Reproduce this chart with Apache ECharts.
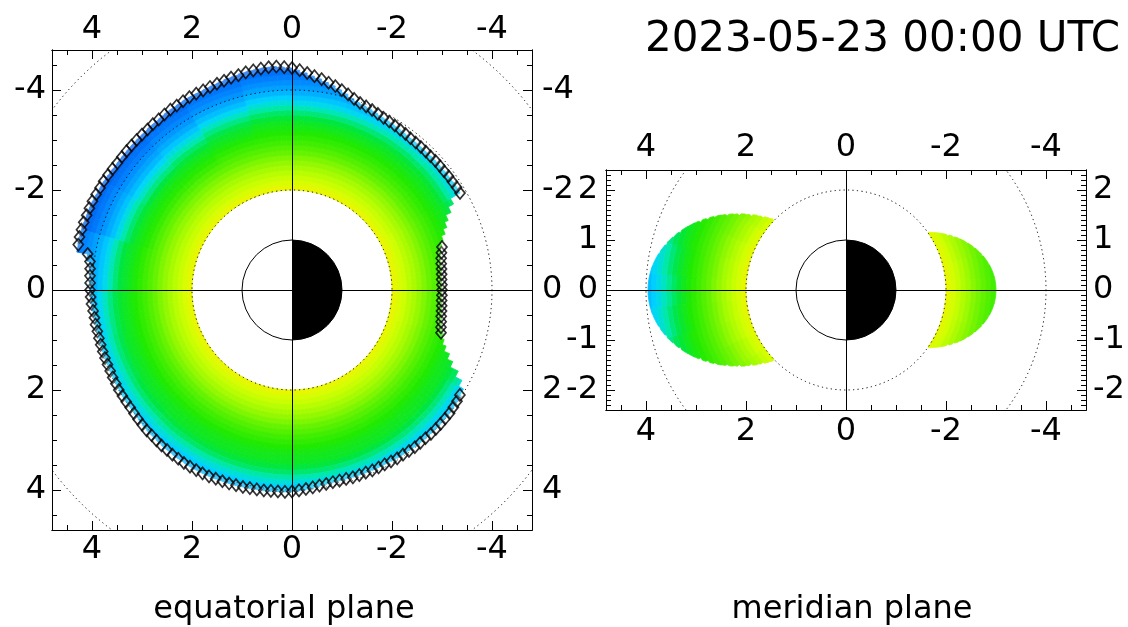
<!DOCTYPE html>
<html>
<head>
<meta charset="utf-8">
<script src="https://cdn.jsdelivr.net/npm/echarts@6/dist/echarts.min.js"></script>
<style>
html, body { margin: 0; padding: 0; background: #fff; }
#chart { width: 1128px; height: 627px; }
</style>
</head>
<body>
<div id="chart"></div>
<script>
var titleText = '2023-05-23 00:00 UTC';
var panelNames = ['equatorial plane', 'meridian plane'];

// equatorial plane: plasmapause radius (RE), every 2 deg from the sunward axis
var eqEdgeStep = 2;
var eqEdge = [
    4.04, 4.03, 4.02, 4.00, 3.99, 3.99, 3.98, 3.98, 3.98, 3.98,
    3.98, 3.98, 3.98, 3.99, 3.99, 4.00, 4.00, 4.00, 4.00, 4.01,
    4.02, 4.03, 4.04, 4.04, 4.05, 4.06, 4.06, 4.07, 4.07, 4.08,
    4.08, 4.08, 4.08, 4.08, 4.07, 4.07, 4.07, 4.06, 4.06, 4.05,
    4.05, 4.05, 4.04, 4.04, 4.04, 4.03, 4.01, 3.99, 3.97, 3.95,
    3.94, 3.93, 3.93, 3.93, 3.94, 3.94, 3.94, 3.95, 3.95, 3.95,
    3.96, 3.97, 3.97, 3.98, 3.99, 3.99, 3.99, 4.00, 4.00, 4.00,
    4.00, 4.00, 3.99, 3.98, 3.96, 3.85, 3.70, 3.52, 3.40, 3.28,
    3.20, 3.15, 3.10, 3.07, 3.05, 3.03, 3.02, 3.01, 3.00, 3.00,
    3.00, 3.00, 3.00, 3.01, 3.02, 3.03, 3.05, 3.08, 3.12, 3.18,
    3.26, 3.34, 3.42, 3.54, 3.66, 3.88, 3.88, 3.87, 3.87, 3.86,
    3.86, 3.86, 3.85, 3.85, 3.85, 3.85, 3.85, 3.86, 3.87, 3.88,
    3.89, 3.90, 3.92, 3.94, 3.96, 3.98, 4.02, 4.07, 4.12, 4.17,
    4.21, 4.26, 4.30, 4.35, 4.40, 4.44, 4.46, 4.48, 4.48, 4.47,
    4.46, 4.45, 4.43, 4.42, 4.40, 4.39, 4.38, 4.37, 4.37, 4.37,
    4.36, 4.35, 4.35, 4.34, 4.33, 4.33, 4.32, 4.32, 4.32, 4.32,
    4.32, 4.32, 4.32, 4.33, 4.34, 4.35, 4.35, 4.36, 4.37, 4.37,
    4.37, 4.38, 4.38, 4.38, 4.37, 4.15, 4.08, 4.06, 4.05, 4.04
];
// angle ranges (deg) where plasmapause points are marked
var eqMarked = [[0, 148], [164, 196], [210, 358]];

// density (log10 cm^-3): 15 deg sectors x radial bins 2.0 .. 4.5 RE
var eqSectorWidth = 15;
var eqRadialBins = [2.0, 2.1, 2.2, 2.3, 2.4, 2.5, 2.6, 2.7, 2.8, 2.9, 3.0, 3.1, 3.2,
    3.3, 3.4, 3.5, 3.6, 3.7, 3.8, 3.9, 4.0, 4.1, 4.2, 4.3, 4.4, 4.5];
var binWidth = 0.1;
var eqDensity = [
    [2.95, 2.85, 2.77, 2.70, 2.63, 2.56, 2.49, 2.42, 2.36, 2.30, 2.25, 2.20, 2.15, 2.10, 2.05, 1.97, 1.88, 1.76, 1.64, 1.52, 1.42, null, null, null, null, null],
    [2.95, 2.85, 2.77, 2.70, 2.63, 2.56, 2.49, 2.42, 2.36, 2.30, 2.25, 2.20, 2.15, 2.10, 2.06, 1.98, 1.90, 1.78, 1.66, 1.55, null, null, null, null, null, null],
    [2.95, 2.85, 2.77, 2.70, 2.63, 2.56, 2.49, 2.42, 2.36, 2.30, 2.25, 2.20, 2.15, 2.10, 2.07, 2.00, 1.92, 1.80, 1.68, 1.56, 1.46, null, null, null, null, null],
    [2.95, 2.85, 2.77, 2.70, 2.63, 2.56, 2.49, 2.42, 2.36, 2.30, 2.25, 2.20, 2.15, 2.11, 2.08, 2.01, 1.93, 1.82, 1.70, 1.58, 1.46, null, null, null, null, null],
    [2.95, 2.85, 2.77, 2.70, 2.63, 2.56, 2.49, 2.42, 2.36, 2.30, 2.25, 2.20, 2.15, 2.11, 2.08, 2.01, 1.93, 1.82, 1.70, 1.58, 1.46, null, null, null, null, null],
    [2.95, 2.85, 2.77, 2.70, 2.63, 2.56, 2.49, 2.42, 2.36, 2.30, 2.25, 2.20, 2.15, 2.11, 2.08, 2.01, 1.93, 1.82, 1.70, 1.58, 1.46, null, null, null, null, null],
    [2.95, 2.85, 2.77, 2.70, 2.63, 2.56, 2.49, 2.42, 2.36, 2.30, 2.25, 2.20, 2.15, 2.11, 2.08, 2.01, 1.92, 1.80, 1.67, 1.55, 1.45, null, null, null, null, null],
    [2.95, 2.85, 2.77, 2.70, 2.63, 2.56, 2.49, 2.42, 2.36, 2.30, 2.25, 2.20, 2.15, 2.11, 2.08, 2.00, 1.90, 1.78, 1.64, 1.52, null, null, null, null, null, null],
    [2.95, 2.85, 2.77, 2.70, 2.63, 2.56, 2.49, 2.42, 2.36, 2.30, 2.25, 2.20, 2.15, 2.11, 2.08, 2.00, 1.90, 1.78, 1.64, 1.52, 1.44, null, null, null, null, null],
    [2.95, 2.85, 2.77, 2.70, 2.63, 2.56, 2.49, 2.42, 2.36, 2.30, 2.25, 2.20, 2.15, 2.11, 2.08, 2.00, 1.90, 1.78, 1.64, 1.52, 1.44, null, null, null, null, null],
    [2.95, 2.85, 2.77, 2.70, 2.63, 2.56, 2.49, 2.42, 2.36, 2.30, 2.25, 2.20, 2.15, 2.11, 2.08, 2.02, 1.95, 1.85, 1.74, null, null, null, null, null, null, null],
    [2.96, 2.87, 2.79, 2.71, 2.64, 2.57, 2.50, 2.43, 2.37, 2.31, 2.26, null, null, null, null, null, null, null, null, null, null, null, null, null, null, null],
    [2.96, 2.87, 2.79, 2.71, 2.64, 2.57, 2.50, 2.43, 2.37, 2.31, 2.26, null, null, null, null, null, null, null, null, null, null, null, null, null, null, null],
    [2.96, 2.87, 2.79, 2.71, 2.64, 2.57, 2.50, 2.43, 2.37, 2.31, 2.26, 2.21, 2.16, 2.11, 2.06, 1.98, 1.92, null, null, null, null, null, null, null, null, null],
    [2.95, 2.85, 2.77, 2.70, 2.63, 2.56, 2.49, 2.42, 2.36, 2.30, 2.25, 2.20, 2.15, 2.10, 2.04, 1.94, 1.82, 1.70, 1.58, null, null, null, null, null, null, null],
    [2.95, 2.85, 2.77, 2.70, 2.63, 2.56, 2.49, 2.42, 2.36, 2.30, 2.25, 2.20, 2.15, 2.09, 2.02, 1.92, 1.80, 1.66, 1.54, null, null, null, null, null, null, null],
    [2.95, 2.85, 2.77, 2.70, 2.63, 2.56, 2.49, 2.42, 2.36, 2.30, 2.25, 2.20, 2.14, 2.08, 2.00, 1.90, 1.78, 1.64, 1.52, 1.42, 1.34, 1.26, null, null, null, null],
    [2.95, 2.85, 2.77, 2.70, 2.63, 2.56, 2.49, 2.42, 2.36, 2.30, 2.25, 2.20, 2.14, 2.08, 2.00, 1.90, 1.78, 1.65, 1.53, 1.43, 1.34, 1.26, 1.19, 1.12, 1.07, null],
    [2.95, 2.85, 2.77, 2.70, 2.63, 2.56, 2.49, 2.42, 2.36, 2.30, 2.25, 2.20, 2.15, 2.10, 2.02, 1.93, 1.82, 1.70, 1.58, 1.47, 1.37, 1.28, 1.20, 1.13, 1.07, null],
    [2.95, 2.85, 2.77, 2.70, 2.63, 2.56, 2.49, 2.42, 2.36, 2.30, 2.24, 2.18, 2.12, 2.06, 1.98, 1.88, 1.76, 1.63, 1.50, 1.40, 1.30, 1.22, 1.15, 1.09, 1.04, null],
    [2.95, 2.85, 2.77, 2.70, 2.63, 2.56, 2.49, 2.42, 2.35, 2.28, 2.22, 2.16, 2.10, 2.02, 1.92, 1.80, 1.67, 1.53, 1.42, 1.32, 1.24, 1.16, 1.10, 1.05, null, null],
    [2.95, 2.85, 2.77, 2.70, 2.63, 2.56, 2.49, 2.42, 2.35, 2.28, 2.22, 2.16, 2.10, 2.00, 1.88, 1.75, 1.62, 1.48, 1.38, 1.28, 1.20, 1.13, 1.07, 1.03, null, null],
    [2.95, 2.85, 2.77, 2.70, 2.63, 2.56, 2.49, 2.42, 2.35, 2.28, 2.22, 2.16, 2.10, 2.02, 1.92, 1.80, 1.66, 1.52, 1.42, 1.32, 1.24, 1.16, 1.10, 1.05, null, null],
    [2.95, 2.85, 2.77, 2.70, 2.63, 2.56, 2.49, 2.42, 2.36, 2.30, 2.24, 2.18, 2.12, 2.06, 2.00, 1.90, 1.78, 1.65, 1.53, 1.44, 1.36, 1.28, 1.22, 1.16, null, null]
];

// meridian plane: latitude bins (deg) x radial bins, day and night side
var merLatBins = [-45, -35, -25, -15, -5, 5, 15, 25, 35];
var merLatWidth = 10;
var merRadialBins = [2.0, 2.1, 2.2, 2.3, 2.4, 2.5, 2.6, 2.7, 2.8, 2.9,
    3.0, 3.1, 3.2, 3.3, 3.4, 3.5, 3.6, 3.7, 3.8, 3.9];
var merDayDensity = [
    [2.84, 2.75, 2.68, 2.62, 2.56, 2.50, 2.45, null, null, null, null, null, null, null, null, null, null, null, null, null],
    [2.88, 2.79, 2.71, 2.64, 2.58, 2.52, 2.46, 2.41, 2.36, 2.31, 2.26, 2.22, 2.18, null, null, null, null, null, null, null],
    [2.92, 2.82, 2.74, 2.67, 2.60, 2.54, 2.48, 2.42, 2.36, 2.31, 2.26, 2.21, 2.16, 2.10, 2.03, 1.96, 1.88, null, null, null],
    [2.94, 2.84, 2.76, 2.69, 2.62, 2.55, 2.48, 2.42, 2.36, 2.30, 2.25, 2.19, 2.13, 2.06, 1.98, 1.90, 1.81, 1.72, 1.63, 1.56],
    [2.95, 2.85, 2.77, 2.70, 2.63, 2.56, 2.49, 2.42, 2.36, 2.30, 2.24, 2.18, 2.11, 2.03, 1.94, 1.85, 1.76, 1.67, 1.58, 1.50],
    [2.94, 2.84, 2.76, 2.69, 2.62, 2.55, 2.48, 2.42, 2.36, 2.30, 2.25, 2.19, 2.13, 2.06, 1.98, 1.90, 1.81, 1.72, 1.63, 1.56],
    [2.92, 2.82, 2.74, 2.67, 2.60, 2.54, 2.48, 2.42, 2.36, 2.31, 2.26, 2.21, 2.16, 2.10, 2.03, 1.96, 1.88, null, null, null],
    [2.88, 2.79, 2.71, 2.64, 2.58, 2.52, 2.46, 2.41, 2.36, 2.31, 2.26, 2.22, 2.18, null, null, null, null, null, null, null],
    [2.84, 2.75, 2.68, 2.62, 2.56, 2.50, 2.45, null, null, null, null, null, null, null, null, null, null, null, null, null]
];
var merNightDensity = [
    [null, null, null, null, null, null, null, null, null, null],
    [2.90, 2.80, 2.72, 2.65, 2.58, null, null, null, null, null],
    [2.92, 2.82, 2.73, 2.65, 2.58, 2.52, 2.46, 2.41, null, null],
    [2.94, 2.84, 2.75, 2.67, 2.59, 2.52, 2.46, 2.40, 2.35, 2.30],
    [2.95, 2.85, 2.76, 2.68, 2.60, 2.53, 2.47, 2.41, 2.36, 2.31],
    [2.94, 2.84, 2.75, 2.67, 2.59, 2.52, 2.46, 2.40, 2.35, 2.30],
    [2.92, 2.82, 2.73, 2.65, 2.58, 2.52, 2.46, 2.41, null, null],
    [2.90, 2.80, 2.72, 2.65, 2.58, null, null, null, null, null],
    [null, null, null, null, null, null, null, null, null, null]
];
var merEdgeL = [3.96, 3.0]; // plasmapause L, day / night

var eqRings = [2, 4, 6];
var merRings = [2, 4];
var earth = [0, 0, 1];

var eqRange = [-4.8, 4.8];
var merRangeY = [-2.4, 2.4];
var majorTicksX = [-4, -2, 0, 2, 4];
var minorTicksX = [-4.5, -4, -3.5, -3, -2.5, -2, -1.5, -1, -0.5, 0, 0.5, 1, 1.5, 2, 2.5, 3, 3.5, 4, 4.5];
var merMajorTicksY = [-2, -1, 0, 1, 2];

var densityColors = ['#0058e8', '#0080ff', '#00a8ff', '#00d4ff', '#00e8b0', '#00e640',
    '#20ea00', '#60f200', '#a0fa00', '#d0ff00', '#eef400'];

var font = 'DejaVu Sans';

// ---- build cells
var eqCells = [];
for (var k = 0; k < eqEdge.length; k++) {
    var a0 = k * eqEdgeStep;
    var row = eqDensity[Math.floor((a0 + eqEdgeStep / 2) / eqSectorWidth)];
    for (var b = 0; b < eqRadialBins.length; b++) {
        var r0 = eqRadialBins[b];
        if (r0 >= eqEdge[k] || row[b] == null) continue;
        eqCells.push([a0, a0 + eqEdgeStep, r0, Math.min(r0 + binWidth, eqEdge[k]), row[b]]);
    }
}

var merCells = [];
[merDayDensity, merNightDensity].forEach(function(table, s) {
    var side = s == 0 ? 1 : -1;
    for (var i = 0; i < merLatBins.length; i++) {
        for (var b = 0; b < table[i].length; b++) {
            if (table[i][b] == null) continue;
            merCells.push([merLatBins[i], merLatBins[i] + merLatWidth, merRadialBins[b],
                merRadialBins[b] + binWidth, table[i][b], side, merEdgeL[s]]);
        }
    }
});

function inMarked(a) {
    for (var i = 0; i < eqMarked.length; i++) {
        if (a >= eqMarked[i][0] && a <= eqMarked[i][1]) return true;
    }
    return false;
}
var diamonds = [];
for (var k = 0; k < eqEdge.length; k++) {
    var a = k * eqEdgeStep;
    if (!inMarked(a)) continue;
    var t = a * Math.PI / 180;
    diamonds.push([eqEdge[k] * Math.cos(t), eqEdge[k] * Math.sin(t)]);
}

// ---- render helpers
function pt(api, r, deg, side) {
    var t = deg * Math.PI / 180;
    return api.coord([side * r * Math.cos(t), r * Math.sin(t)]);
}

function renderEqCell(params, api) {
    var a0 = api.value(0), a1 = api.value(1), r0 = api.value(2), r1 = api.value(3);
    var c = api.visual('color');
    return {
        type: 'polygon',
        shape: { points: [pt(api, r0, a0, 1), pt(api, r0, a1, 1), pt(api, r1, a1, 1), pt(api, r1, a0, 1)] },
        style: { fill: c, stroke: c, lineWidth: 0.8 }
    };
}

function renderMerCell(params, api) {
    var l0 = api.value(0), l1 = api.value(1), r0 = api.value(2), r1 = api.value(3);
    var side = api.value(5), lpp = api.value(6);
    var inner = [], outer = [];
    var n = 10;
    for (var i = 0; i <= n; i++) {
        var lat = l0 + (l1 - l0) * i / n;
        var t = lat * Math.PI / 180;
        var ro = Math.min(r1, lpp * Math.cos(t) * Math.cos(t));
        if (ro <= r0) continue;
        inner.push(pt(api, r0, lat, side));
        outer.unshift(pt(api, ro, lat, side));
    }
    if (inner.length < 2) return;
    var c = api.visual('color');
    return {
        type: 'polygon',
        shape: { points: inner.concat(outer) },
        style: { fill: c, stroke: c, lineWidth: 0.8 }
    };
}

function renderRing(params, api) {
    var c = api.coord([api.value(0), api.value(1)]);
    var r = api.size([api.value(2), api.value(2)])[0];
    return {
        type: 'circle',
        shape: { cx: c[0], cy: c[1], r: r },
        style: { fill: 'none', stroke: '#000', lineWidth: 1, lineDash: [1.2, 3.3] }
    };
}

function renderEarth(params, api) {
    var c = api.coord([api.value(0), api.value(1)]);
    var r = api.size([api.value(2), api.value(2)])[0];
    var night = api.coord([api.value(0) - api.value(2), api.value(1)]);
    var a = Math.atan2(night[1] - c[1], night[0] - c[0]);
    return {
        type: 'group',
        children: [{
            type: 'circle',
            shape: { cx: c[0], cy: c[1], r: r },
            style: { fill: '#fff', stroke: '#000', lineWidth: 1 }
        }, {
            type: 'sector',
            shape: { cx: c[0], cy: c[1], r0: 0, r: r, startAngle: a - Math.PI / 2, endAngle: a + Math.PI / 2, clockwise: true },
            style: { fill: '#000' }
        }]
    };
}

function frameAxis(gridIndex, position, range, inverse, ticks, tickLen, labels, margin, interval) {
    var ax = {
        type: 'value',
        gridIndex: gridIndex,
        position: position,
        min: range[0],
        max: range[1],
        inverse: inverse,
        axisLine: { show: true, onZero: false, lineStyle: { color: '#000', width: 1 } },
        axisTick: { show: true, inside: true, length: tickLen, lineStyle: { color: '#000', width: 1 } },
        axisLabel: { show: false },
        splitLine: { show: false }
    };
    if (interval) ax.interval = interval;
    else ax.axisTick.customValues = ticks;
    if (labels) {
        ax.axisLabel = {
            show: true, customValues: labels, margin: margin,
            fontSize: 32, fontFamily: font, color: '#000'
        };
    }
    return ax;
}

var chart = echarts.init(document.getElementById('chart'));

var lineMarks = {
    silent: true,
    symbol: ['none', 'none'],
    label: { show: false },
    lineStyle: { color: '#000', width: 1, type: 'solid' },
    data: [{ xAxis: 0 }, { yAxis: 0 }]
};

var option = {
    animation: false,
    backgroundColor: '#fff',
    grid: [
        { left: 52, top: 50, width: 480, height: 480 },
        { left: 606, top: 170, width: 480, height: 240 }
    ],
    xAxis: [
        frameAxis(0, 'bottom', eqRange, true, majorTicksX, 9, majorTicksX, 4),
        frameAxis(0, 'top', eqRange, true, majorTicksX, 9, majorTicksX, 4),
        frameAxis(0, 'bottom', eqRange, true, minorTicksX, 5),
        frameAxis(0, 'top', eqRange, true, minorTicksX, 5),
        frameAxis(1, 'bottom', eqRange, true, majorTicksX, 9, majorTicksX, 6),
        frameAxis(1, 'top', eqRange, true, majorTicksX, 9, majorTicksX, 6),
        frameAxis(1, 'bottom', eqRange, true, minorTicksX, 5),
        frameAxis(1, 'top', eqRange, true, minorTicksX, 5)
    ],
    yAxis: [
        frameAxis(0, 'left', eqRange, true, majorTicksX, 9, majorTicksX, 6),
        frameAxis(0, 'right', eqRange, true, majorTicksX, 9, majorTicksX, 10),
        frameAxis(0, 'left', eqRange, true, minorTicksX, 5),
        frameAxis(0, 'right', eqRange, true, minorTicksX, 5),
        frameAxis(1, 'left', merRangeY, false, merMajorTicksY, 9, merMajorTicksY, 8),
        frameAxis(1, 'right', merRangeY, false, merMajorTicksY, 9, merMajorTicksY, 7),
        frameAxis(1, 'left', merRangeY, false, null, 5, null, 0, 0.1),
        frameAxis(1, 'right', merRangeY, false, null, 5, null, 0, 0.1)
    ],
    visualMap: {
        type: 'continuous',
        show: false,
        min: 1,
        max: 3,
        dimension: 4,
        seriesIndex: [0, 1],
        inRange: { color: densityColors }
    },
    graphic: [{
        type: 'text', x: 1120, y: 40,
        style: { text: titleText, font: '42px "' + font + '"', fill: '#000', align: 'right', verticalAlign: 'middle', textAlign: 'right', textVerticalAlign: 'middle' }
    }, {
        type: 'text', x: 284, y: 610,
        style: { text: panelNames[0], font: '32px "' + font + '"', fill: '#000', align: 'center', verticalAlign: 'middle', textAlign: 'center', textVerticalAlign: 'middle' }
    }, {
        type: 'text', x: 852, y: 610,
        style: { text: panelNames[1], font: '32px "' + font + '"', fill: '#000', align: 'center', verticalAlign: 'middle', textAlign: 'center', textVerticalAlign: 'middle' }
    }],
    series: [{
        type: 'custom', xAxisIndex: 0, yAxisIndex: 0, z: 1, silent: true,
        renderItem: renderEqCell, data: eqCells
    }, {
        type: 'custom', xAxisIndex: 4, yAxisIndex: 4, z: 1, silent: true,
        renderItem: renderMerCell, data: merCells
    }, {
        type: 'custom', xAxisIndex: 0, yAxisIndex: 0, z: 2, silent: true,
        renderItem: renderEarth, data: [earth]
    }, {
        type: 'custom', xAxisIndex: 4, yAxisIndex: 4, z: 2, silent: true,
        renderItem: renderEarth, data: [earth]
    }, {
        type: 'custom', xAxisIndex: 0, yAxisIndex: 0, z: 3, silent: true, clip: true,
        renderItem: renderRing,
        data: eqRings.map(function(r) { return [0, 0, r]; }),
        markLine: lineMarks
    }, {
        type: 'custom', xAxisIndex: 4, yAxisIndex: 4, z: 3, silent: true, clip: true,
        renderItem: renderRing,
        data: merRings.map(function(r) { return [0, 0, r]; }),
        markLine: lineMarks
    }, {
        type: 'scatter', xAxisIndex: 0, yAxisIndex: 0, z: 4, silent: true,
        symbol: 'diamond', symbolSize: [10, 12],
        itemStyle: { color: 'rgba(255,255,255,0.3)', borderColor: '#000', borderWidth: 1.7 },
        data: diamonds
    }]
};
chart.setOption(option);
</script>
</body>
</html>
